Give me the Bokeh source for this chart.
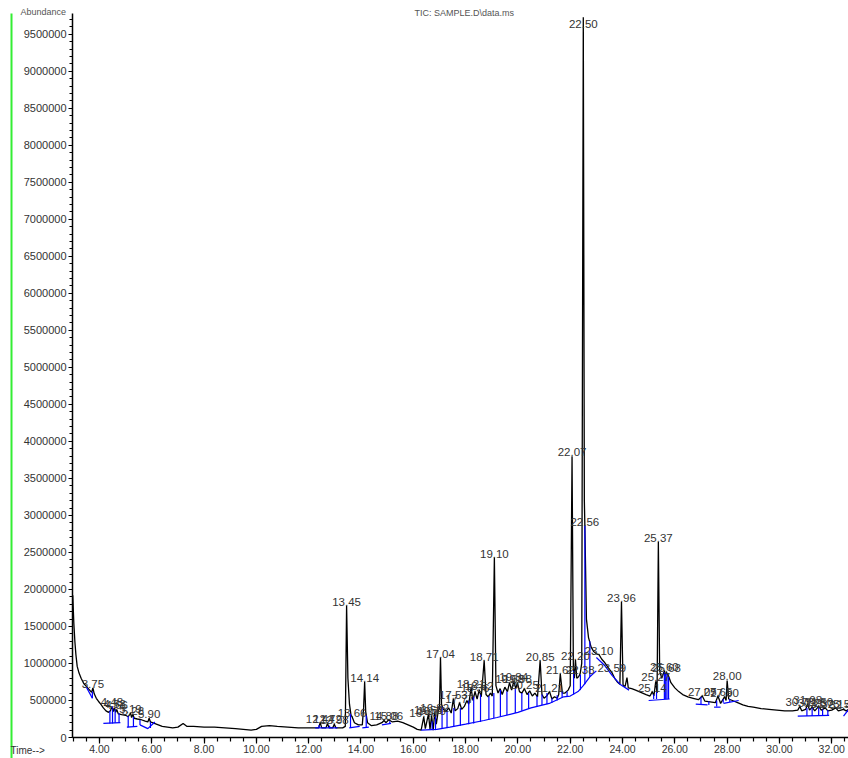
import numpy as np
from bokeh.plotting import figure
from bokeh.models import (Range1d, SingleIntervalTicker, NumeralTickFormatter,
                          ColumnDataSource, Label, BoxAnnotation)
from bokeh.core.properties import value
from bokeh.embed import file_html
from bokeh.resources import INLINE

# Total ion chromatogram: retention time (min) and abundance (millions of counts)
trace_time = [
    2.98, 3.02, 3.06, 3.10, 3.15, 3.22, 3.30, 3.40, 3.50, 3.60, 3.70, 3.75, 3.80, 3.88, 3.96,
    4.05, 4.15, 4.25, 4.35, 4.42, 4.48, 4.53, 4.58, 4.62, 4.66, 4.72, 4.85, 5.00, 5.10, 5.19,
    5.23, 5.28, 5.33, 5.45, 5.60, 5.75, 5.85, 5.90, 5.95, 6.10, 6.25, 6.40, 6.60, 6.80, 7.00,
    7.20, 7.35, 7.60, 8.00, 8.40, 8.80, 9.20, 9.50, 9.80, 10.00, 10.20, 10.50, 10.80, 11.20,
    11.60, 12.00, 12.30, 12.38, 12.44, 12.50, 12.66, 12.72, 12.78, 12.92, 12.98, 13.04, 13.30,
    13.40, 13.45, 13.50, 13.56, 13.62, 13.66, 13.75, 13.90, 14.05, 14.10, 14.14, 14.18, 14.25,
    14.40, 14.60, 14.80, 14.88, 14.96, 15.06, 15.20, 15.40, 15.60, 15.80, 16.00, 16.15, 16.30,
    16.40, 16.46, 16.58, 16.64, 16.70, 16.76, 16.82, 16.88, 16.95, 17.00, 17.04, 17.08, 17.15,
    17.25, 17.35, 17.45, 17.53, 17.60, 17.70, 17.77, 17.85, 17.95, 18.05, 18.12, 18.21, 18.28,
    18.36, 18.44, 18.52, 18.60, 18.71, 18.78, 18.86, 18.95, 19.02, 19.10, 19.16, 19.24, 19.32,
    19.40, 19.50, 19.60, 19.68, 19.76, 19.84, 19.92, 19.98, 20.06, 20.15, 20.25, 20.35, 20.45,
    20.55, 20.65, 20.75, 20.85, 20.92, 21.00, 21.10, 21.21, 21.30, 21.40, 21.50, 21.56, 21.62,
    21.70, 21.80, 21.92, 22.00, 22.07, 22.12, 22.16, 22.20, 22.25, 22.32, 22.38, 22.44, 22.50,
    22.54, 22.56, 22.62, 22.70, 22.80, 22.90, 23.00, 23.10, 23.20, 23.30, 23.40, 23.50, 23.59,
    23.70, 23.80, 23.90, 23.96, 24.02, 24.10, 24.17, 24.22, 24.35, 24.50, 24.70, 24.90, 25.05,
    25.14, 25.20, 25.27, 25.32, 25.37, 25.42, 25.50, 25.60, 25.64, 25.68, 25.75, 25.85, 26.00,
    26.15, 26.30, 26.50, 26.70, 26.90, 27.05, 27.15, 27.35, 27.55, 27.65, 27.75, 27.90, 27.96,
    28.00, 28.06, 28.20, 28.40, 28.60, 28.80, 29.00, 29.30, 29.60, 29.90, 30.20, 30.50, 30.70,
    30.78, 30.85, 31.00, 31.08, 31.15, 31.25, 31.35, 31.50, 31.60, 31.75, 31.85, 32.00, 32.15,
    32.25, 32.45, 32.55, 32.65,
]
trace_abund = [
    1.92, 1.55, 1.30, 1.12, 0.96, 0.87, 0.80, 0.73, 0.69, 0.65, 0.61, 0.67, 0.59, 0.53, 0.49,
    0.45, 0.40, 0.36, 0.34, 0.36, 0.42, 0.35, 0.40, 0.34, 0.38, 0.32, 0.31, 0.30, 0.28, 0.33,
    0.27, 0.31, 0.26, 0.25, 0.24, 0.22, 0.21, 0.26, 0.21, 0.19, 0.17, 0.15, 0.14, 0.13, 0.14,
    0.19, 0.15, 0.15, 0.14, 0.14, 0.13, 0.12, 0.11, 0.10, 0.11, 0.15, 0.16, 0.15, 0.14,
    0.13, 0.13, 0.13, 0.13, 0.20, 0.13, 0.13, 0.19, 0.13, 0.13, 0.18, 0.13, 0.13,
    0.15, 1.78, 0.80, 0.45, 0.30, 0.28, 0.20, 0.17, 0.17, 0.40, 0.75, 0.35, 0.20,
    0.16, 0.17, 0.20, 0.23, 0.20, 0.24, 0.21, 0.22, 0.20, 0.17, 0.14, 0.11, 0.10,
    0.28, 0.12, 0.32, 0.11, 0.30, 0.10, 0.34, 0.18, 0.35, 0.40, 1.08, 0.45, 0.38,
    0.35, 0.40, 0.33, 0.52, 0.36, 0.39, 0.47, 0.38, 0.42, 0.50, 0.45, 0.67, 0.50,
    0.62, 0.52, 0.64, 0.55, 1.04, 0.58, 0.55, 0.60, 0.56, 2.43, 0.70, 0.60, 0.66,
    0.58, 0.68, 0.62, 0.74, 0.64, 0.76, 0.66, 0.74, 0.62, 0.60, 0.66, 0.58, 0.63,
    0.56, 0.60, 0.55, 1.04, 0.58, 0.53, 0.56, 0.62, 0.52, 0.55, 0.53, 0.58, 0.86,
    0.60, 0.60, 0.64, 0.70, 3.80, 0.95, 0.80, 1.05, 0.80, 0.82, 0.86, 1.00, 9.73,
    3.20, 2.86, 1.60, 1.35, 1.22, 1.16, 1.13, 1.12, 1.06, 1.02, 0.97, 0.92, 0.88,
    0.80, 0.75, 0.72, 1.83, 0.71, 0.69, 0.81, 0.67, 0.66, 0.64, 0.61, 0.58, 0.56,
    0.62, 0.56, 0.76, 0.60, 2.64, 0.90, 0.80, 0.90, 0.84, 0.88, 0.84, 0.74, 0.67,
    0.62, 0.58, 0.55, 0.53, 0.51, 0.56, 0.49, 0.48, 0.47, 0.56, 0.46, 0.55, 0.50,
    0.77, 0.52, 0.50, 0.47, 0.44, 0.42, 0.41, 0.39, 0.38, 0.37, 0.36, 0.36, 0.37,
    0.42, 0.36, 0.38, 0.45, 0.37, 0.41, 0.36, 0.42, 0.37, 0.40, 0.36, 0.37, 0.40,
    0.36, 0.38, 0.36, 0.38,
]

# Integrated peaks that carry a retention-time label
peak_rt = [
    3.75, 4.48, 4.58, 4.66, 5.19, 5.28, 5.90, 12.44, 12.72, 12.98, 13.45, 13.66, 14.14,
    14.88, 15.06, 16.40, 16.58, 16.70, 16.82, 17.04, 17.53, 17.77, 18.21, 18.36, 18.52,
    18.71, 19.10, 19.68, 19.84, 19.98, 20.25, 20.85, 21.21, 21.62, 22.07, 22.20, 22.38,
    22.50, 22.56, 23.10, 23.59, 23.96, 25.14, 25.27, 25.37, 25.60, 25.68, 27.05, 27.65,
    27.90, 28.00, 30.78, 31.08, 31.25, 31.50, 31.75, 32.15, 32.45,
]
peak_abund = [
    0.67, 0.42, 0.40, 0.38, 0.33, 0.31, 0.26, 0.20, 0.19, 0.18, 1.78, 0.28, 0.75,
    0.23, 0.24, 0.28, 0.32, 0.30, 0.34, 1.08, 0.52, 0.47, 0.67, 0.62, 0.64,
    1.04, 2.43, 0.74, 0.76, 0.74, 0.66, 1.04, 0.62, 0.86, 3.80, 1.05, 0.86,
    9.73, 2.86, 1.12, 0.88, 1.83, 0.62, 0.76, 2.64, 0.90, 0.88, 0.56, 0.56,
    0.55, 0.77, 0.42, 0.45, 0.41, 0.42, 0.40, 0.40, 0.38,
]

# Integration baselines (blue)
base_time = [
    [3.50, 3.73], [4.15, 4.80], [5.05, 5.45], [5.55, 5.85, 6.12], [12.25, 13.10],
    [13.55, 13.95], [14.05, 14.30], [14.80, 15.15],
    [16.30, 16.90, 17.40, 18.00, 18.70, 19.20, 20.00, 20.50, 21.20, 21.75, 22.00, 22.30,
     22.50, 22.75, 23.00],
    [23.00, 23.30, 23.60, 23.90, 24.25], [25.00, 25.80], [26.80, 27.25], [27.50, 27.75],
    [27.86, 28.44], [30.70, 31.90], [32.45, 32.65],
]
base_abund = [
    [0.68, 0.53], [0.19, 0.20], [0.14, 0.15], [0.17, 0.12, 0.21], [0.13, 0.13],
    [0.13, 0.15], [0.13, 0.14], [0.17, 0.19],
    [0.10, 0.11, 0.14, 0.18, 0.23, 0.27, 0.34, 0.40, 0.46, 0.55, 0.56, 0.62,
     0.70, 0.82, 0.90],
    [1.08, 0.98, 0.84, 0.72, 0.64], [0.50, 0.52], [0.45, 0.44], [0.41, 0.41],
    [0.46, 0.50], [0.29, 0.30], [0.29, 0.38],
]

# Peak start/stop drop lines (blue)
drop_time = [
    3.73, 4.40, 4.50, 4.60, 4.75, 5.10, 5.30, 5.55, 5.95, 12.40, 12.80, 13.05, 13.60, 14.20,
    15.10, 16.72, 16.85, 17.10, 17.29, 17.55, 17.80, 18.12, 18.31, 18.57, 18.89, 19.08,
    19.33, 19.58, 19.90, 20.15, 20.41, 20.73, 20.92, 21.11, 21.30, 21.50, 21.69, 21.88,
    22.13, 22.39, 22.56, 22.75, 25.19, 25.30, 25.60, 25.65, 25.70, 25.76, 27.00, 27.30,
    27.60, 27.85, 28.10, 31.05, 31.25, 31.50, 31.65, 31.85,
]
drop_low = [
    0.53, 0.19, 0.19, 0.20, 0.20, 0.14, 0.15, 0.17, 0.13, 0.13, 0.13, 0.13, 0.13, 0.14,
    0.19, 0.10, 0.10, 0.12, 0.13, 0.15, 0.16, 0.18, 0.19, 0.21, 0.24, 0.26,
    0.28, 0.30, 0.33, 0.36, 0.39, 0.42, 0.44, 0.45, 0.47, 0.50, 0.54, 0.55,
    0.58, 0.64, 0.72, 0.82, 0.52, 0.52, 0.52, 0.52, 0.52, 0.52, 0.45, 0.44,
    0.42, 0.47, 0.48, 0.29, 0.29, 0.29, 0.30, 0.30,
]
drop_high = [
    0.62, 0.36, 0.42, 0.38, 0.33, 0.29, 0.28, 0.24, 0.21, 0.17, 0.16, 0.14, 0.32, 0.30,
    0.22, 0.22, 0.30, 0.42, 0.36, 0.40, 0.40, 0.50, 0.55, 0.58, 0.56, 0.60,
    0.64, 0.62, 0.66, 0.60, 0.60, 0.56, 0.58, 0.60, 0.53, 0.57, 0.62, 0.62,
    0.90, 0.85, 2.86, 1.30, 0.58, 0.62, 0.88, 0.86, 0.86, 0.82, 0.55, 0.49,
    0.50, 0.52, 0.52, 0.40, 0.40, 0.41, 0.38, 0.37,
]

SCALE = 1e6
FONT = "Liberation Sans"
W, H = 848, 758

# axis extents (data) and where the axes sit on the page (pixels)
T_MIN, T_MAX = 2.97, 32.64
A_MIN, A_MAX = 0.0, 9.78e6
AX_LEFT, AX_BOTTOM, AX_TOP = 72, 737, 13

# the frame covers the whole page; axes are pinned at the data origin
px_per_min = (W - AX_LEFT) / (T_MAX - T_MIN)
px_per_count = (AX_BOTTOM - AX_TOP) / (A_MAX - A_MIN)
x_range = Range1d(T_MIN - AX_LEFT / px_per_min, T_MAX)
y_range = Range1d(A_MIN - (H - AX_BOTTOM) / px_per_count, A_MAX + AX_TOP / px_per_count)

trace = ColumnDataSource(dict(t=trace_time, a=np.array(trace_abund) * SCALE))
label_y = np.minimum(np.array(peak_abund) * SCALE, A_MAX - 0.2e6)
labels = ColumnDataSource(dict(t=peak_rt, y=label_y,
                               txt=[f"{r:.2f}" for r in peak_rt]))
drops = ColumnDataSource(dict(t=drop_time, lo=np.array(drop_low) * SCALE,
                              hi=np.array(drop_high) * SCALE))

p = figure(width=W, height=H, output_backend="svg", toolbar_location=None,
           x_range=x_range, y_range=y_range,
           min_border_left=0, min_border_right=0, min_border_top=0, min_border_bottom=0)
p.outline_line_color = None
p.grid.visible = False
p.background_fill_color = "white"
p.border_fill_color = "white"

# axes
p.xaxis.fixed_location = A_MIN
p.xaxis.bounds = (T_MIN, T_MAX)
p.yaxis.fixed_location = T_MIN
p.yaxis.bounds = (A_MIN, A_MAX)
p.xaxis.ticker = SingleIntervalTicker(interval=2, num_minor_ticks=4)
p.xaxis.formatter = NumeralTickFormatter(format="0.00")
p.yaxis.ticker = SingleIntervalTicker(interval=500000, num_minor_ticks=5)
p.yaxis.formatter = NumeralTickFormatter(format="0")
for ax in (p.xaxis[0], p.yaxis[0]):
    ax.axis_line_color = "black"
    ax.axis_line_width = 1.5
    ax.major_tick_line_color = "black"
    ax.minor_tick_line_color = "black"
    ax.major_tick_line_width = 1.2
    ax.minor_tick_line_width = 1.2
    ax.major_tick_in = 0
    ax.minor_tick_in = 0
    ax.major_label_text_font = FONT
    ax.major_label_text_color = "#333333"
p.xaxis.major_tick_out = 6
p.xaxis.minor_tick_out = 4
p.xaxis.major_label_standoff = 1
p.xaxis.major_label_text_font_size = "10.5px"
p.yaxis.major_tick_out = 4
p.yaxis.minor_tick_out = 3
p.yaxis.major_label_standoff = 2
p.yaxis.major_label_text_font_size = "11px"

# chromatogram and integration marks
p.line("t", "a", source=trace, line_color="black", line_width=1.3)
p.multi_line([bt for bt in base_time],
             [list(np.array(ba) * SCALE) for ba in base_abund],
             line_color="#0000ff", line_width=1.2)
p.segment(x0="t", y0="lo", x1="t", y1="hi", source=drops,
          line_color="#0000ff", line_width=1.2)
p.text(x="t", y="y", text="txt", source=labels, text_align="center",
       text_baseline="bottom", text_font=value(FONT), text_font_size="11.5px",
       text_color="#333333")

# page decorations: margin rule, axis caption and header lines
p.add_layout(BoxAnnotation(left=10, right=12, top=13, bottom=H,
                           left_units="canvas", right_units="canvas",
                           top_units="canvas", bottom_units="canvas",
                           fill_color="#33ee33", fill_alpha=1.0, line_color=None))
p.add_layout(Label(x=10, y=750, x_units="canvas", y_units="canvas", text="Time-->",
                   text_font=FONT, text_font_size="10px", text_color="#333333",
                   text_baseline="middle"))
p.add_layout(Label(x=20, y=11, x_units="canvas", y_units="canvas", text="Abundance",
                   text_font=FONT, text_font_size="9px", text_color="#555555",
                   text_baseline="alphabetic"))
p.add_layout(Label(x=414, y=12, x_units="canvas", y_units="canvas",
                   text="TIC: SAMPLE.D\\data.ms",
                   text_font=FONT, text_font_size="9px", text_color="#555555",
                   text_baseline="alphabetic"))

open("out.html", "w").write(file_html(p, INLINE))
